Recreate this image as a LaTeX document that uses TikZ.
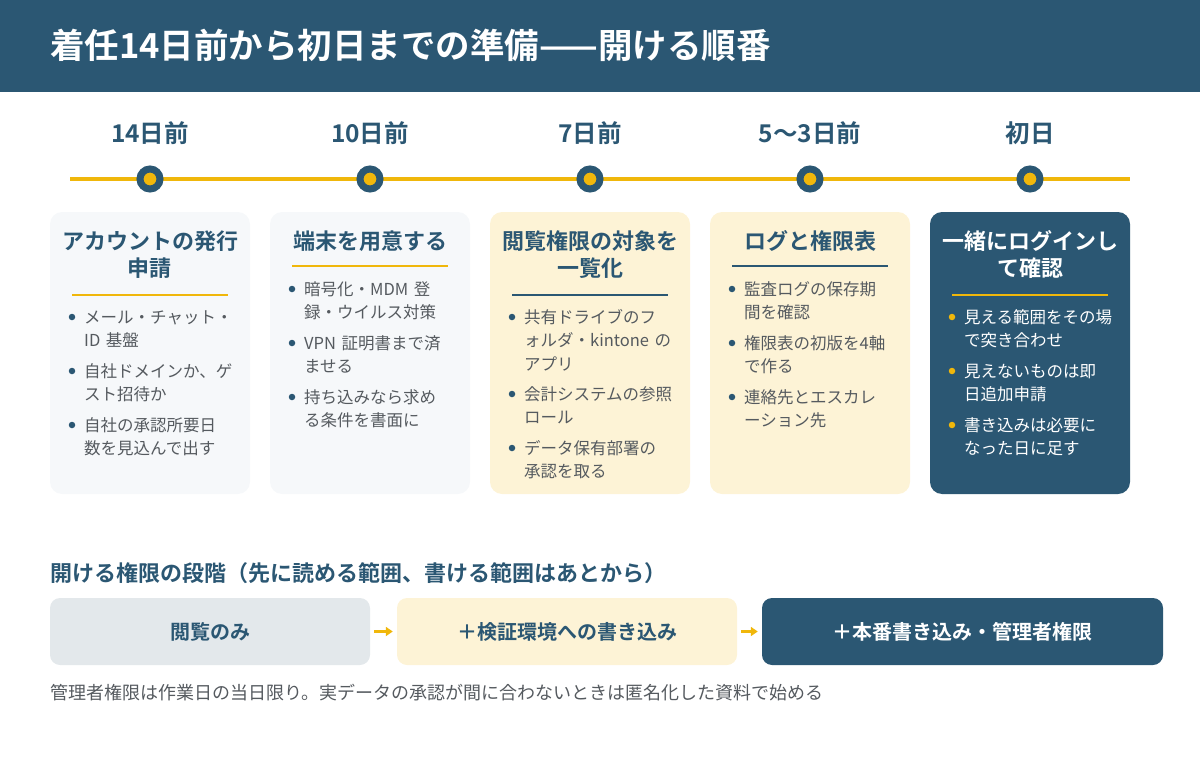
\documentclass[tikz,border=0pt]{standalone}
\usepackage{fontspec}
\setmainfont{Noto Sans CJK JP}[BoldFont={Noto Sans CJK JP Bold}]
\usepackage{xcolor}
\usetikzlibrary{positioning,calc,arrows.meta}
\definecolor{navy}{HTML}{2B5773}
\definecolor{gold}{HTML}{F0B70B}
\definecolor{paper}{HTML}{F6F8FA}
\definecolor{cream}{HTML}{FDF3D6}
\definecolor{mist}{HTML}{E3E8EB}
\definecolor{ink}{HTML}{555A5F}

\begin{document}
\begin{tikzpicture}[x=1pt, y=-1pt,
    card/.style={rounded corners=12pt, minimum width=200pt, minimum height=282pt, inner sep=0},
    cardtitle/.style={font=\bfseries\fontsize{22}{27}\selectfont, align=center, text=navy, inner sep=0},
    rule/.style={line width=2pt},
    item/.style={anchor=base west, text width=170pt, align=left, inner sep=0, font=\fontsize{16.5}{23.5}\selectfont, text=ink},
    bdot/.style={circle, fill=navy, inner sep=0, minimum size=6.5pt},
    stop/.style={circle, fill=gold, draw=navy, line width=7pt, minimum size=20pt, inner sep=0},
    when/.style={font=\bfseries\fontsize{24.5}{28}\selectfont, text=navy},
    stage/.style={rounded corners=10pt, minimum height=67pt, font=\bfseries\fontsize{20}{24}\selectfont, inner sep=0},
    flow/.style={-{Triangle[length=7pt,width=9pt]}, gold, line width=3pt, shorten <=4pt, shorten >=4pt}]
    \useasboundingbox (0,0) rectangle (1200,760);

    % Header band
    \fill[navy] (0,0) rectangle (1200,92);
    \node[anchor=west, inner sep=0, text=white, font=\bfseries\fontsize{34.5}{40}\selectfont] (title) at (50,45) {着任14日前から初日までの準備——開ける順番};

    % Timeline
    \coordinate (tl-w) at (70,179);
    \coordinate (tl-e) at (1130,179);
    \draw[gold, line width=4pt] (tl-w) -- (tl-e);
    \foreach \i/\x/\label in {1/150/14日前, 2/370/10日前, 3/590/7日前, 4/810/5〜3日前, 5/1030/初日} {
        \node[stop] (stop\i) at (\x,179) {};
        \node[when] (when\i) at (\x,133) {\label};
    }

    % Card 1
    \node[card, fill=paper] (card1) at (150,353) {};
    \node[cardtitle] (head1) at (150,254.5) {アカウントの発行\\申請};
    \draw[rule, gold] (72,295) -- (228,295);
    \foreach \j/\y/\txt in {1/317/{メール・チャット・\\ID 基盤}, 2/371/{自社ドメインか、ゲ\\スト招待か}, 3/425/{自社の承認所要日\\数を見込んで出す}} {
        \node[item] (item1\j) at (84,\y+6) {\txt};
        \node[bdot] (bul1\j) at ([xshift=-12pt, yshift=6pt]item1\j.base west) {};
    }

    % Card 2
    \node[card, fill=paper] (card2) at (370,353) {};
    \node[cardtitle] (head2) at (370,241) {端末を用意する};
    \draw[rule, gold] (292,266) -- (448,266);
    \foreach \j/\y/\txt in {1/289/{暗号化・MDM 登\\録・ウイルス対策}, 2/343/{VPN 証明書まで済\\ませる}, 3/397/{持ち込みなら求め\\る条件を書面に}} {
        \node[item] (item2\j) at (304,\y+6) {\txt};
        \node[bdot] (bul2\j) at ([xshift=-12pt, yshift=6pt]item2\j.base west) {};
    }

    % Card 3
    \node[card, fill=cream] (card3) at (590,353) {};
    \node[cardtitle] (head3) at (590,254.5) {閲覧権限の対象を\\一覧化};
    \draw[rule, navy] (512,295) -- (668,295);
    \foreach \j/\y/\txt in {1/317/{共有ドライブのフ\\ォルダ・kintone の\\アプリ}, 2/394/{会計システムの参照\\ロール}, 3/448/{データ保有部署の\\承認を取る}} {
        \node[item] (item3\j) at (524,\y+6) {\txt};
        \node[bdot] (bul3\j) at ([xshift=-12pt, yshift=6pt]item3\j.base west) {};
    }

    % Card 4
    \node[card, fill=cream] (card4) at (810,353) {};
    \node[cardtitle] (head4) at (810,241) {ログと権限表};
    \draw[rule, navy] (732,266) -- (888,266);
    \foreach \j/\y/\txt in {1/289/{監査ログの保存期\\間を確認}, 2/343/{権限表の初版を4軸\\で作る}, 3/397/{連絡先とエスカレ\\ーション先}} {
        \node[item] (item4\j) at (744,\y+6) {\txt};
        \node[bdot] (bul4\j) at ([xshift=-12pt, yshift=6pt]item4\j.base west) {};
    }

    % Card 5
    \node[card, fill=navy] (card5) at (1030,353) {};
    \node[cardtitle, text=white] (head5) at (1030,254.5) {一緒にログインし\\て確認};
    \draw[rule, gold] (952,295) -- (1108,295);
    \foreach \j/\y/\txt in {1/317/{見える範囲をその場\\で突き合わせ}, 2/371/{見えないものは即\\日追加申請}, 3/425/{書き込みは必要に\\なった日に足す}} {
        \node[item, text=white] (item5\j) at (964,\y+6) {\txt};
        \node[bdot, fill=gold] (bul5\j) at ([xshift=-12pt, yshift=6pt]item5\j.base west) {};
    }

    % Permission stages
    \node[anchor=west, inner sep=0, text=navy, font=\bfseries\fontsize{22}{26}\selectfont] (stages) at (50,573) {開ける権限の段階（先に読める範囲、書ける範囲はあとから）};
    \node[stage, fill=mist, text=navy, minimum width=320pt] (read) at (210,631.5) {閲覧のみ};
    \node[stage, fill=cream, text=navy, minimum width=340pt] (test) at (567,631.5) {＋検証環境への書き込み};
    \node[stage, fill=navy, text=white, minimum width=401pt] (prod) at (962.5,631.5) {＋本番書き込み・管理者権限};
    \draw[flow] (read) -- (test);
    \draw[flow] (test) -- (prod);

    \node[anchor=west, inner sep=0, text=ink, font=\fontsize{18}{22}\selectfont] (note) at (50,693) {管理者権限は作業日の当日限り。実データの承認が間に合わないときは匿名化した資料で始める};
\end{tikzpicture}
\end{document}
